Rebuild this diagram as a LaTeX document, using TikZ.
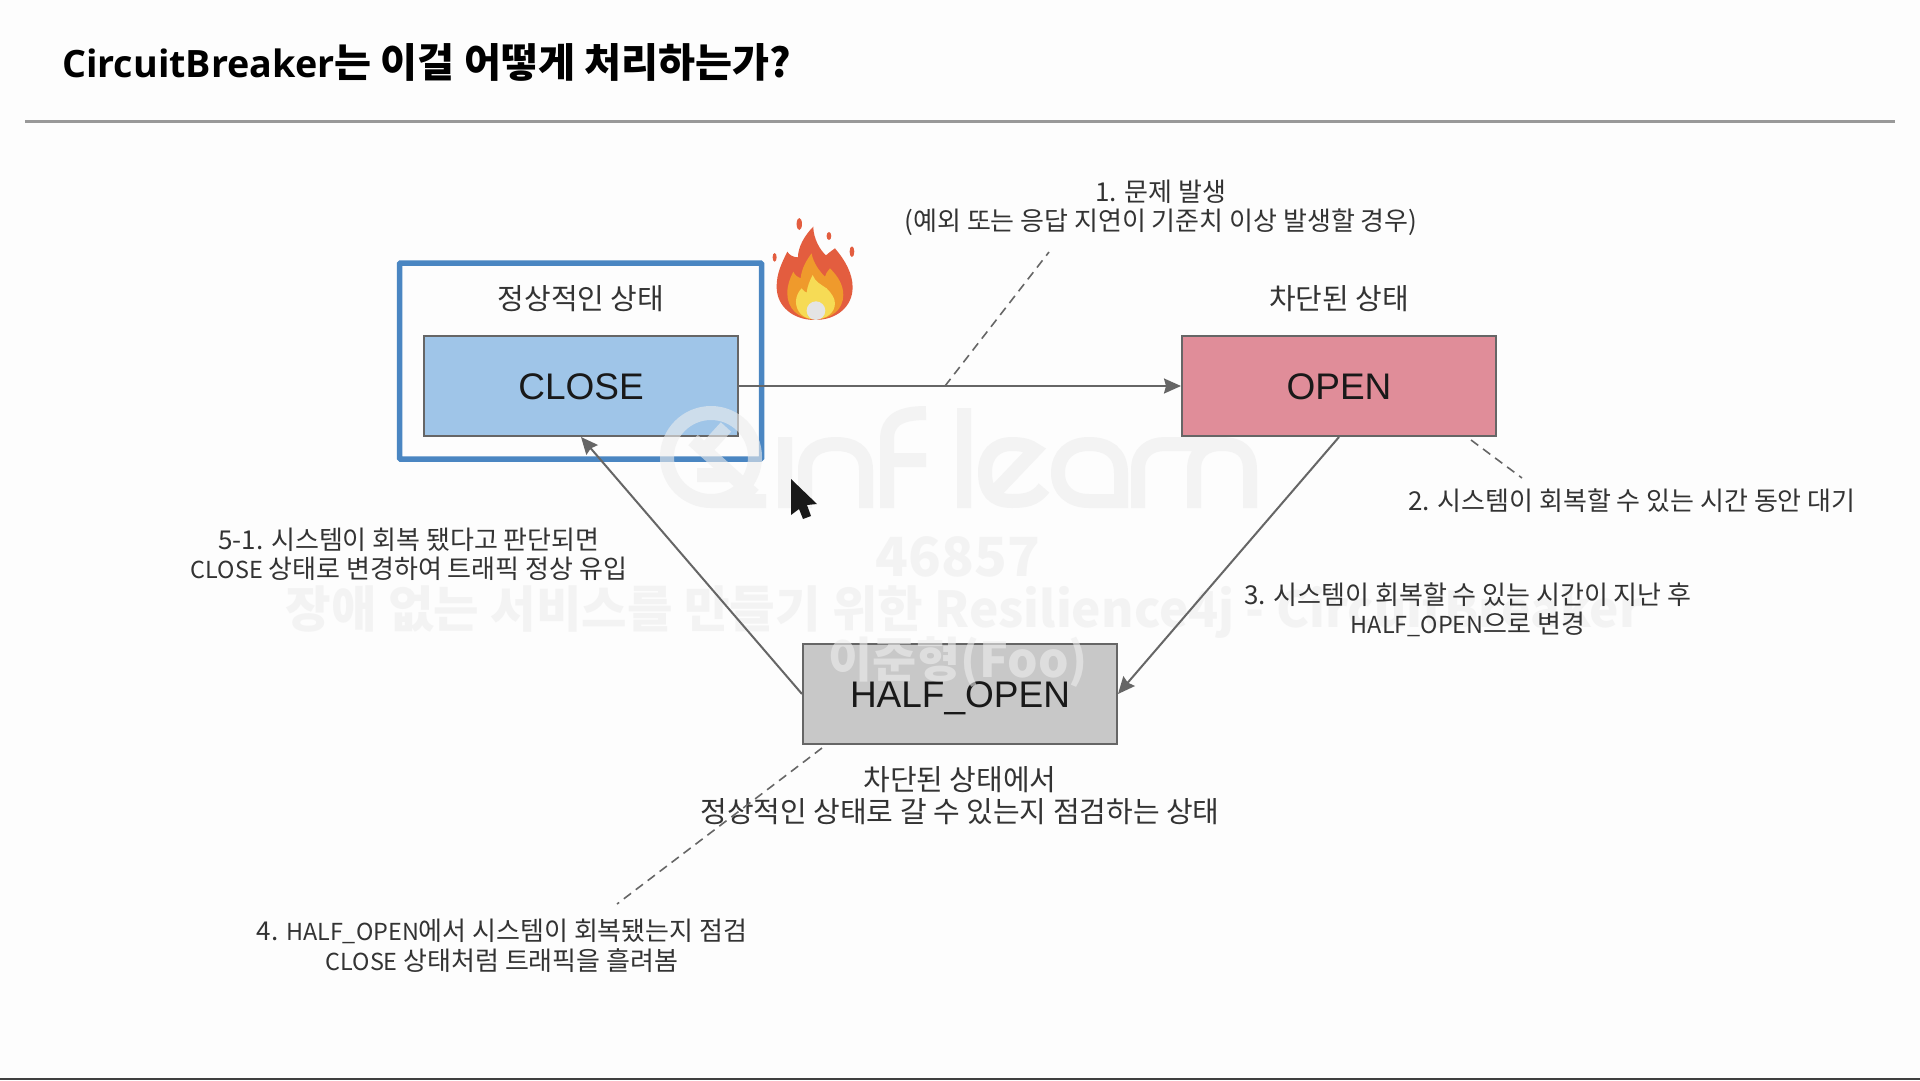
\documentclass[tikz,border=0pt]{standalone}
\usepackage{fontspec}
\usetikzlibrary{arrows.meta}
\setmainfont{Noto Sans CJK KR}
\newfontfamily\boxfont{Liberation Sans}
\newfontfamily\titlefont{Open Sans}
\newcommand{\tightword}[1]{{\fontsize{23.4}{29.5}\selectfont #1}}
\definecolor{PageCol}{HTML}{FDFDFD}
\definecolor{FrameCol}{HTML}{4A86C2}
\definecolor{CloseCol}{HTML}{9FC5E8}
\definecolor{OpenCol}{HTML}{E08D99}
\definecolor{HalfCol}{HTML}{C8C8C8}
\definecolor{EdgeCol}{HTML}{666666}
\definecolor{TextCol}{HTML}{333333}
\definecolor{MarkCol}{HTML}{EDEDED}
\definecolor{FlameRed}{HTML}{E35D3F}
\definecolor{FlameOrange}{HTML}{EF9A2C}
\definecolor{FlameYellow}{HTML}{F6DB55}
\definecolor{FlameCore}{HTML}{E4E4E4}
\tikzset{
	statebox/.style={draw=EdgeCol, line width=2pt, minimum width=314pt, minimum height=100pt, text height=26pt, text depth=0pt, font=\boxfont\fontsize{37}{40}\selectfont, text=black!90},
	note/.style={align=center, text=TextCol, font=\fontsize{26}{29.5}\selectfont},
	statenote/.style={align=center, text=TextCol, font=\fontsize{29}{32}\selectfont},
	flow/.style={draw=EdgeCol, line width=2pt, -{Stealth[inset=2pt,length=17pt,width=15pt]}},
	callout/.style={draw=EdgeCol, line width=1.6pt, dash pattern=on 9pt off 6pt},
	markline/.style={draw=MarkCol, line width=14pt, opacity=0.6},
	marktext/.style={text=MarkCol, text opacity=0.6, font=\bfseries\fontsize{49.5}{54}\selectfont}
}
\begin{document}
\begin{tikzpicture}[x=1pt,y=-1pt]
	\useasboundingbox (0,0) rectangle (1920,1080);
	\fill[PageCol] (0,0) rectangle (1920,1080);
	% HEADER
	\node[anchor=west, font=\bfseries\fontsize{40.2}{44}\selectfont, text=black] (title) at (58.5,62) {{\titlefont\fontsize{37.7}{44}\selectfont CircuitBreaker}는 이걸 어떻게 처리하는가?};
	\draw[draw=black!40, line width=3pt] (25,121) -- (1895,121);
	\draw[draw=black!75, line width=2.5pt] (0,1079) -- (1920,1079);
	% STATES
	\node[draw=FrameCol, line width=5.5pt, rounded corners=1pt, minimum width=362pt, minimum height=196pt] (closeframe) at (580.5,361) {};
	\node[statebox, fill=CloseCol] (close) at (581,386) {CLOSE};
	\node[statebox, fill=OpenCol] (open) at (1339,386) {OPEN};
	\node[statebox, fill=HalfCol] (halfopen) at (960,694) {HALF\_OPEN};
	\node[statenote] (closenote) at (581,298.5) {정상적인 상태};
	\node[statenote] (opennote) at (1339,298.5) {차단된 상태};
	\node[statenote] (halfnote) at (960,796) {차단된 상태에서\\정상적인 상태로 갈 수 있는지 점검하는 상태};
	% WATERMARK
	\draw[markline]
		(711,457) circle[radius=44pt] (711,501) -- (766,501)
		(693,440) -- (754,495) (726,427) -- (705,450) (697,475) -- (728,475)
		(785,437) -- (785,508)
		(805,508) -- (805,470) .. controls (805,450) and (820,444) .. (836,444) .. controls (852,444) and (866,450) .. (866,470) -- (866,508)
		(887,508) -- (887,440) .. controls (887,420) and (900,413) .. (926,413) (887,460) -- (926,460)
		(964,408) -- (964,508)
		(1044,488) .. controls (1035,500) and (1024,501) .. (1012,501) .. controls (992,501) and (985,490) .. (985,472) .. controls (985,455) and (995,444) .. (1012,444) .. controls (1022,444) and (1030,446) .. (1035,450) -- (995,492)
		(1121,508) -- (1121,473) .. controls (1121,452) and (1107,444) .. (1089,444) .. controls (1070,444) and (1058,455) .. (1058,473) .. controls (1058,490) and (1070,501) .. (1089,501) -- (1121,501)
		(1138,508) -- (1138,470) .. controls (1138,452) and (1150,444) .. (1165,444) -- (1222,444) .. controls (1240,444) and (1250,452) .. (1250,470) -- (1250,508)
		(1194,508) -- (1194,470) .. controls (1194,452) and (1205,444) .. (1222,444);
	\node[marktext, font=\bfseries\fontsize{54}{58}\selectfont] (markid) at (958,557) {46857};
	\node[marktext] (markcourse) at (964,612) {장애 없는 서비스를 만들기 위한 Resilience4j - CircuitBreaker};
	\node[marktext, font=\bfseries\fontsize{48}{52}\selectfont] (markname) at (958,662) {이준형(Foo)};
	% FLOWS
	\draw[flow] (close.east) -- (open.west);
	\draw[flow] (open.south) -- (halfopen.east);
	\draw[flow] (halfopen.west) -- (close.south);
	% CALLOUTS
	\coordinate (problemtail) at (945,386);
	\coordinate (problemend) at (1049,252);
	\coordinate (waittail) at (1471,440);
	\coordinate (waitend) at (1522,478);
	\coordinate (checktail) at (822,748);
	\coordinate (checkend) at (617,904);
	\draw[callout] (problemtail) -- (problemend);
	\draw[callout] (waittail) -- (waitend);
	\draw[callout] (checktail) -- (checkend);
	\node[note] (problemnote) at (1161,208) {1. 문제 발생\\(예외 또는 응답 지연이 기준치 이상 발생할 경우)};
	\node[note] (waitnote) at (1632,501) {2. 시스템이 회복할 수 있는 시간 동안 대기};
	\node[note] (halfmovenote) at (1468,610) {3. 시스템이 회복할 수 있는 시간이 지난 후\\\tightword{HALF\_OPEN}으로 변경};
	\node[note] (checknote) at (502,946) {4. \tightword{HALF\_OPEN}에서 시스템이 회복됐는지 점검\\\tightword{CLOSE} 상태처럼 트래픽을 흘려봄};
	\node[note] (recovernote) at (409,554.5) {5-1. 시스템이 회복 됐다고 판단되면\\\tightword{CLOSE} 상태로 변경하여 트래픽 정상 유입};
	% FLAME
	\begin{scope}[shift={(380,200)},x=0.3333pt,y=-0.3333pt]
		\fill[FlameRed] (1305,360) .. controls (1240,360) and (1190,320) .. (1190,260) .. controls (1190,220) and (1205,190) .. (1222,155) .. controls (1228,165) and (1240,172) .. (1254,172) .. controls (1254,140) and (1275,105) .. (1300,80) .. controls (1300,115) and (1320,150) .. (1338,166) .. controls (1345,160) and (1355,152) .. (1365,145) .. controls (1395,180) and (1418,220) .. (1418,262) .. controls (1418,320) and (1370,360) .. (1305,360) -- cycle;
		\fill[FlameOrange] (1305,358) .. controls (1255,358) and (1222,325) .. (1222,280) .. controls (1222,255) and (1230,235) .. (1240,215) .. controls (1245,225) and (1252,232) .. (1262,235) .. controls (1265,205) and (1280,180) .. (1295,160) .. controls (1300,190) and (1320,215) .. (1335,230) .. controls (1338,222) and (1342,212) .. (1350,205) .. controls (1375,230) and (1390,255) .. (1390,285) .. controls (1390,328) and (1355,358) .. (1305,358) -- cycle;
		\fill[FlameYellow] (1305,358) .. controls (1270,358) and (1248,335) .. (1248,305) .. controls (1248,290) and (1255,275) .. (1265,265) .. controls (1270,272) and (1275,276) .. (1280,278) .. controls (1282,260) and (1290,240) .. (1298,225) .. controls (1305,245) and (1325,255) .. (1340,265) .. controls (1355,280) and (1365,295) .. (1365,310) .. controls (1365,338) and (1340,358) .. (1305,358) -- cycle;
		\fill[FlameCore] (1308,332) circle[radius=28];
		\fill[FlameRed] (1258,72) ellipse[x radius=8, y radius=18];
		\fill[FlameRed] (1347,108) ellipse[x radius=7, y radius=12];
		\fill[FlameRed] (1184,172) ellipse[x radius=6, y radius=13];
		\fill[FlameRed] (1416,155) ellipse[x radius=7, y radius=16];
	\end{scope}
	% POINTER
	\fill[black!90] (791,479) -- (817,504) -- (807,505) -- (811,516) -- (803,519) -- (799,509) -- (791,515) -- cycle;
\end{tikzpicture}
\end{document}
